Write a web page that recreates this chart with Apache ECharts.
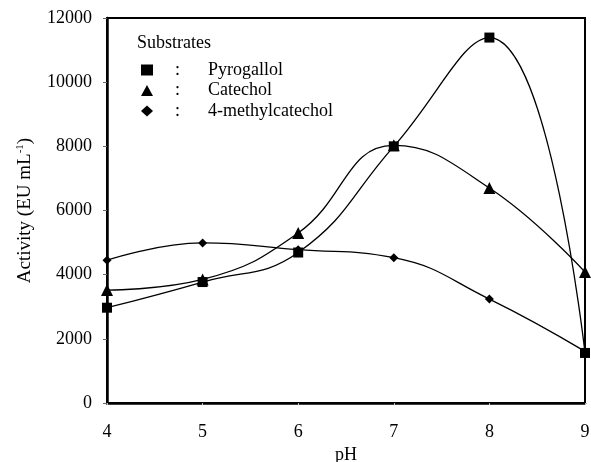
<!DOCTYPE html>
<html>
<head>
<meta charset="utf-8">
<script src="https://cdn.jsdelivr.net/npm/echarts@6/dist/echarts.min.js"></script>
<style>
html, body { margin: 0; padding: 0; background: #fff; }
#chart { width: 591px; height: 462px; }
</style>
</head>
<body>
<div id="chart"></div>
<script>
// pH values on the x axis
const phValues = [4, 5, 6, 7, 8, 9]
const pyrogallol = [2970, 3770, 4690, 8000, 11390, 1560]
const catechol = [3520, 3850, 5300, 8030, 6700, 4080]
const methylcatechol = [4450, 4990, 4780, 4530, 3240, 1610]
const yTicks = [0, 2000, 4000, 6000, 8000, 10000, 12000]

const font = 'Liberation Serif'

function pairs(vals) {
    return phValues.map((x, i) => [x, vals[i]])
}

function line(name, vals, symbol, size) {
    return {
        name: name,
        type: 'line',
        data: pairs(vals),
        smooth: 0.45,
        symbol: symbol,
        symbolSize: size,
        itemStyle: { color: '#000' },
        lineStyle: { color: '#000', width: 1.3 }
    }
}

const chart = echarts.init(document.getElementById('chart'))
chart.setOption({
    animation: false,
    textStyle: { fontFamily: font },
    grid: {
        left: 107, right: 6, top: 18, bottom: 59,
        outerBoundsMode: 'none',
        show: true, borderColor: '#000', borderWidth: 2
    },
    xAxis: {
        type: 'value',
        min: 4, max: 9, interval: 1,
        name: 'pH',
        nameLocation: 'middle',
        nameGap: 40,
        nameTextStyle: { fontFamily: font, fontSize: 18, color: '#000' },
        axisLine: { lineStyle: { color: '#000', width: 2.5 } },
        axisTick: { show: true, length: 2, lineStyle: { color: '#bbb' } },
        axisLabel: { fontFamily: font, fontSize: 18, color: '#000', margin: 20 },
        splitLine: { show: false }
    },
    yAxis: {
        type: 'value',
        min: yTicks[0], max: yTicks[yTicks.length - 1], interval: 2000,
        name: '{t|Activity (EU mL}{s|-1}{t|)}',
        nameLocation: 'middle',
        nameGap: 72,
        nameTextStyle: {
            rich: {
                t: { fontFamily: font, fontSize: 19, color: '#000' },
                s: { fontFamily: font, fontSize: 11, color: '#000', verticalAlign: 'top', padding: [0, 0, 9, 0] }
            }
        },
        axisLine: { show: true, lineStyle: { color: '#000', width: 2.5 } },
        axisTick: { show: true, length: 4, lineStyle: { color: '#666' } },
        axisLabel: {
            fontFamily: font, fontSize: 18, color: '#000', margin: 15,
            formatter: v => String(v)
        },
        splitLine: { show: false }
    },
    legend: {
        orient: 'vertical',
        left: 136,
        top: 56,
        itemGap: 2.5,
        itemWidth: 12,
        itemHeight: 11,
        data: [
            { name: 'Pyrogallol', icon: 'rect' },
            { name: 'Catechol', icon: 'triangle' },
            { name: '4-methylcatechol', icon: 'diamond' }
        ],
        formatter: function (name) {
            return '{c|:}{n|' + name + '}'
        },
        textStyle: {
            rich: {
                c: { fontFamily: font, fontSize: 18, color: '#000', width: 33, padding: [0, 0, 0, 17] },
                n: { fontFamily: font, fontSize: 18, color: '#000' }
            }
        }
    },
    graphic: [{
        type: 'text',
        left: 137,
        top: 34,
        style: { text: 'Substrates', font: '18px "Liberation Serif"', fill: '#000' }
    }],
    series: [
        line('Pyrogallol', pyrogallol, 'rect', 10),
        line('Catechol', catechol, 'triangle', 12),
        line('4-methylcatechol', methylcatechol, 'diamond', 9)
    ]
})
</script>
</body>
</html>
